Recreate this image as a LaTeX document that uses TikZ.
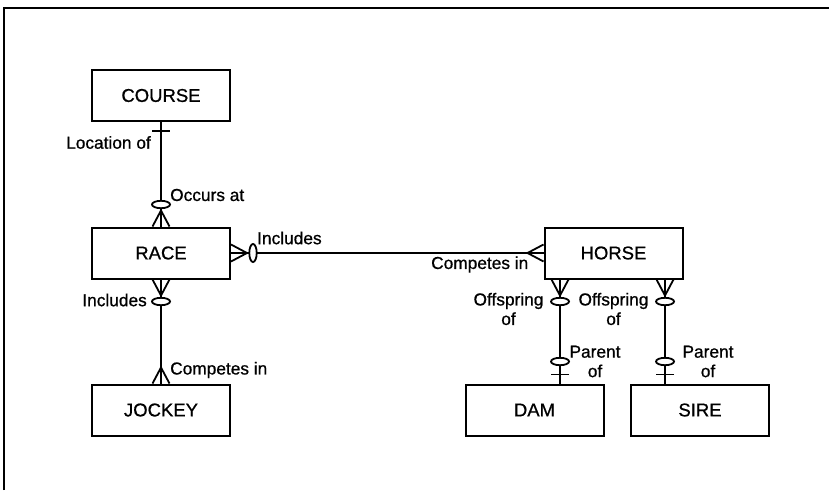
\documentclass[tikz,border=0pt]{standalone}
\usepackage{fontspec}
\setmainfont{Liberation Sans}[BoldFont={Liberation Sans}, BoldFeatures={FakeBold=0.8}]
\usetikzlibrary{positioning}
\tikzset{
  entity/.style={rectangle, draw, line width=2pt, minimum width=138pt, minimum height=51pt, font=\fontsize{18.5}{20}\selectfont\bfseries},
  role/.style={inner sep=0pt, align=center, font=\fontsize{17.3}{19.5}\selectfont\bfseries},
  link/.style={line width=1.8pt},
  crowfoot/.pic={\draw[link] (16pt,0) -- (0,8.5pt) (16pt,0) -- (0,-8.5pt);},
  ring/.pic={\draw[link, fill=white] (22pt,0) ellipse [x radius=3.7pt, y radius=9pt];},
  bar/.pic={\draw[link] (9pt,-9pt) -- (9pt,9pt);},
}
\begin{document}
\begin{tikzpicture}[x=1pt, y=-1pt]
        \useasboundingbox (0,0) rectangle (829,490);
        \draw[line width=2pt] (4,490) -- (4,8) -- (829,8);

        \node[entity] (course) at (161, 95.5) {COURSE};
        \node[entity] (race) at (161, 253) {RACE};
        \node[entity] (jockey) at (161, 410) {JOCKEY};
        \node[entity] (horse) at (613.5, 253) {HORSE};
        \node[entity] (dam) at (534.5, 410) {DAM};
        \node[entity] (sire) at (700, 410) {SIRE};

        % course - race
        \draw[link] (course.south) -- (race.north);
        \pic[rotate=-90] at (course.south) {bar};
        \pic[rotate=90] at (race.north) {crowfoot};
        \pic[rotate=90] at (race.north) {ring};
        \node[role, anchor=east] (locof) at (151, 142.5) {Location of};
        \node[role, anchor=west] (occat) at (170, 195) {Occurs at};

        % race - horse
        \draw[link] (race.east) -- (horse.west);
        \pic at (race.east) {crowfoot};
        \pic at (race.east) {ring};
        \pic[rotate=180] at (horse.west) {crowfoot};
        \node[role, anchor=west] (inclh) at (257, 238) {Includes};
        \node[role, anchor=east] (compr) at (528.5, 264.5) {Competes in};

        % race - jockey
        \draw[link] (race.south) -- (jockey.north);
        \pic[rotate=-90] at (race.south) {crowfoot};
        \pic[rotate=-90] at (race.south) {ring};
        \pic[rotate=90] at (jockey.north) {crowfoot};
        \node[role, anchor=east] (inclj) at (147, 300) {Includes};
        \node[role, anchor=west] (compj) at (170, 370) {Competes in};

        % horse - dam
        \draw[link] ([xshift=-53.5pt]horse.south) -- ([xshift=25.5pt]dam.north);
        \pic[rotate=-90] at ([xshift=-53.5pt]horse.south) {crowfoot};
        \pic[rotate=-90] at ([xshift=-53.5pt]horse.south) {ring};
        \pic[rotate=90] at ([xshift=25.5pt]dam.north) {ring};
        \pic[rotate=90] at ([xshift=25.5pt]dam.north) {bar};
        \node[role] (offd) at (508.5, 309) {Offspring\\of};
        \node[role] (pard) at (595, 361.5) {Parent\\of};

        % horse - sire
        \draw[link] ([xshift=51.5pt]horse.south) -- ([xshift=-35pt]sire.north);
        \pic[rotate=-90] at ([xshift=51.5pt]horse.south) {crowfoot};
        \pic[rotate=-90] at ([xshift=51.5pt]horse.south) {ring};
        \pic[rotate=90] at ([xshift=-35pt]sire.north) {ring};
        \pic[rotate=90] at ([xshift=-35pt]sire.north) {bar};
        \node[role] (offs) at (613.5, 309) {Offspring\\of};
        \node[role] (pars) at (708, 361.5) {Parent\\of};
    \end{tikzpicture}
\end{document}
